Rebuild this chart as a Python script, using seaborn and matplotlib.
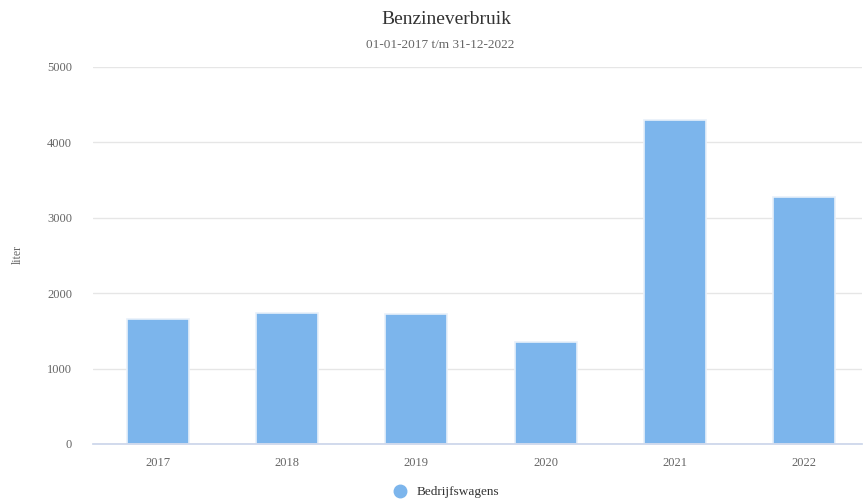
import pandas as pd
import seaborn as sns
import matplotlib.pyplot as plt
from matplotlib.lines import Line2D

# --- DATA ---
years = ["2017", "2018", "2019", "2020", "2021", "2022"]
liters = [1652, 1733, 1726, 1352, 4295, 3272]
series_name = "Bedrijfswagens"

BAR_COLOR = "#7cb5ec"

df = pd.DataFrame({"jaar": years, "liter": liters})

sns.set_theme(style="white")
plt.rcParams["font.family"] = ["Liberation Serif", "DejaVu Serif"]

fig = plt.figure(figsize=(8.63, 5.03), dpi=100)
ax = fig.add_axes([93 / 863, 1 - 444 / 503, 769 / 863, (444 - 67) / 503])

sns.barplot(data=df, x="jaar", y="liter", color=BAR_COLOR, saturation=1,
            width=0.48, edgecolor="#e8f0fa", linewidth=1.2, ax=ax)

ax.set_ylim(0, 5000)
ax.set_yticks([0, 1000, 2000, 3000, 4000, 5000])
ax.set_xlim(-0.499, 5.446)
ax.yaxis.grid(True, color="#e6e6e6", linewidth=1)
ax.set_axisbelow(True)
for side in ["top", "right", "left"]:
    ax.spines[side].set_visible(False)
ax.spines["bottom"].set_color("#ccd6eb")
ax.tick_params(axis="both", length=0, colors="#666666", labelsize=9)
ax.tick_params(axis="y", pad=15)
ax.tick_params(axis="x", pad=9)
ax.set_xlabel("")
ax.set_ylabel("")

# axis title placed like the original
fig.text(18 / 863, 1 - 255 / 503, "liter", rotation=90, ha="center", va="center",
         fontsize=8.5, color="#666666")

fig.text(446 / 863, 1 - 20 / 503, "Benzineverbruik", ha="center", va="center",
         fontsize=14, color="#333333")
fig.text(440 / 863, 1 - 45 / 503, "01-01-2017 t/m 31-12-2022", ha="center", va="center",
         fontsize=9.5, color="#666666")

handle = Line2D([], [], marker="o", linestyle="", markersize=9,
                markerfacecolor=BAR_COLOR, markeredgecolor=BAR_COLOR)
fig.legend([handle], [series_name], loc="center", bbox_to_anchor=(443 / 863, 1 - 492 / 503),
           frameon=False, fontsize=9.5, handletextpad=0.3, labelcolor="#333333")

fig.savefig("out.png", dpi=100)
